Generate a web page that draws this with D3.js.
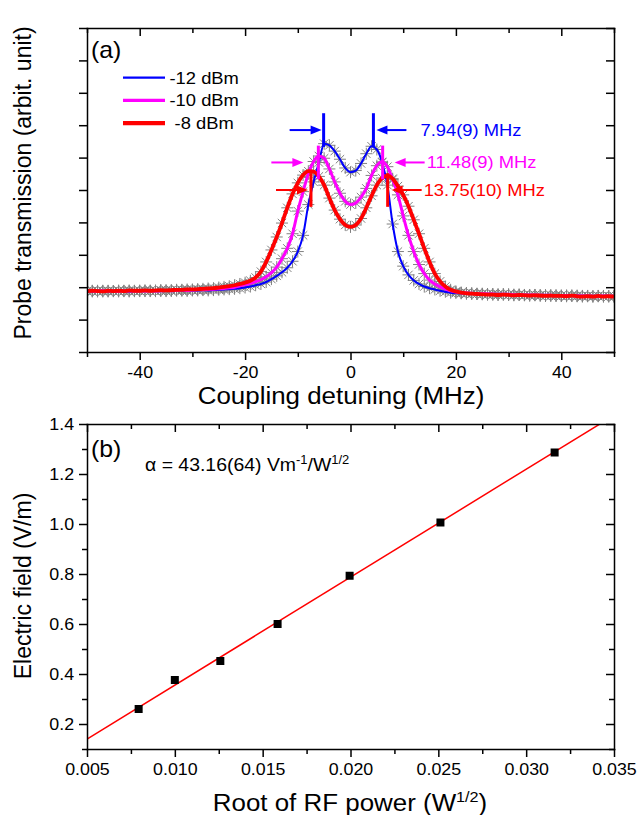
<!DOCTYPE html>
<html>
<head>
<meta charset="utf-8">
<script src="https://cdn.jsdelivr.net/npm/d3@7"></script>
<style>
body { margin: 0; background: #fff; }
svg { display: block; font-family: "Liberation Sans", Arial, sans-serif; }
.axis path, .axis line { stroke: #000; stroke-width: 1.5px; }
.axis path { stroke-linecap: square; }
</style>
</head>
<body>
<svg width="639" height="815"></svg>
<script>
// panel (a): probe transmission vs coupling detuning (MHz), arbitrary units
const detuning = [
	-50, -49, -48, -47, -46, -45, -44, -43, -42, -41,
	-40, -39, -38, -37, -36, -35, -34, -33, -32, -31,
	-30, -29, -28, -27, -26, -25, -24, -23, -22, -21,
	-20, -19, -18, -17, -16, -15, -14, -13, -12, -11,
	-10, -9, -8, -7, -6, -5, -4, -3, -2, -1,
	0, 1, 2, 3, 4, 5, 6, 7, 8, 9,
	10, 11, 12, 13, 14, 15, 16, 17, 18, 19,
	20, 21, 22, 23, 24, 25, 26, 27, 28, 29,
	30, 31, 32, 33, 34, 35, 36, 37, 38, 39,
	40, 41, 42, 43, 44, 45, 46, 47, 48, 49, 50
];
const trans12 = [
	1.88, 1.87, 1.89, 1.88, 1.87, 1.88, 1.89, 1.88, 1.87, 1.88,
	1.88, 1.89, 1.88, 1.88, 1.89, 1.88, 1.89, 1.90, 1.89, 1.89,
	1.90, 1.90, 1.91, 1.90, 1.91, 1.92, 1.93, 1.94, 1.95, 1.97,
	1.99, 2.02, 2.06, 2.10, 2.16, 2.25, 2.35, 2.46, 2.60, 2.80,
	3.10, 3.60, 4.55, 5.25, 5.85, 6.43, 6.38, 6.20, 5.95, 5.68,
	5.55, 5.60, 5.82, 6.12, 6.35, 6.25, 5.85, 5.15, 3.95, 3.10,
	2.65, 2.38, 2.21, 2.10, 2.02, 1.97, 1.93, 1.89, 1.86, 1.83,
	1.82, 1.81, 1.80, 1.80, 1.79, 1.79, 1.78, 1.78, 1.77, 1.78,
	1.77, 1.76, 1.77, 1.76, 1.75, 1.76, 1.75, 1.75, 1.74, 1.75,
	1.74, 1.74, 1.73, 1.74, 1.73, 1.73, 1.72, 1.73, 1.72, 1.72, 1.72
];
const trans10 = [
	1.88, 1.88, 1.87, 1.89, 1.88, 1.88, 1.87, 1.89, 1.88, 1.88,
	1.89, 1.88, 1.89, 1.88, 1.89, 1.90, 1.89, 1.90, 1.91, 1.90,
	1.91, 1.92, 1.92, 1.93, 1.94, 1.95, 1.96, 1.98, 2.00, 2.04,
	2.08, 2.12, 2.17, 2.23, 2.32, 2.45, 2.62, 2.88, 3.20, 3.65,
	4.35, 4.95, 5.50, 5.88, 6.05, 5.98, 5.65, 5.25, 4.90, 4.65,
	4.55, 4.60, 4.78, 5.05, 5.45, 5.75, 5.87, 5.72, 5.32, 4.85,
	4.20, 3.60, 3.10, 2.70, 2.42, 2.22, 2.10, 2.01, 1.94, 1.89,
	1.85, 1.83, 1.82, 1.81, 1.80, 1.80, 1.79, 1.79, 1.78, 1.78,
	1.78, 1.77, 1.77, 1.76, 1.76, 1.76, 1.75, 1.75, 1.75, 1.74,
	1.74, 1.74, 1.74, 1.73, 1.73, 1.73, 1.72, 1.72, 1.73, 1.72, 1.72
];
const trans8 = [
	1.88, 1.89, 1.88, 1.87, 1.89, 1.88, 1.89, 1.88, 1.90, 1.89,
	1.89, 1.90, 1.89, 1.90, 1.91, 1.90, 1.91, 1.92, 1.92, 1.93,
	1.93, 1.94, 1.95, 1.96, 1.97, 1.99, 2.01, 2.03, 2.06, 2.10,
	2.14, 2.20, 2.30, 2.48, 2.78, 3.15, 3.55, 3.98, 4.45, 4.88,
	5.22, 5.46, 5.58, 5.57, 5.42, 5.15, 4.75, 4.38, 4.10, 3.92,
	3.86, 3.92, 4.12, 4.45, 4.82, 5.15, 5.37, 5.44, 5.35, 5.12,
	4.85, 4.50, 4.08, 3.65, 3.20, 2.78, 2.42, 2.18, 2.02, 1.92,
	1.87, 1.83, 1.81, 1.80, 1.79, 1.78, 1.77, 1.77, 1.76, 1.77,
	1.76, 1.75, 1.76, 1.75, 1.74, 1.75, 1.74, 1.73, 1.74, 1.73,
	1.73, 1.72, 1.74, 1.72, 1.71, 1.72, 1.71, 1.73, 1.71, 1.72, 1.71
];
const powerLabels = ['-12 dBm', '-10 dBm', ' -8 dBm'];
const fwhmLabels = ['7.94(9) MHz', '11.48(9) MHz', '13.75(10) MHz'];
// peak positions marked on each trace (MHz) and arrow heights (arb.)
const peakLeft = [-5.1, -6.1, -7.5];
const peakRight = [4.35, 6.1, 7.05];
const arrowLevel = [6.85, 5.85, 5.0];

// panel (b): field vs root of RF power
const rootPower = [0.00794, 0.0100, 0.01259, 0.01585, 0.01995, 0.02512, 0.03162];
const field = [0.26, 0.376, 0.452, 0.600, 0.793, 1.006, 1.286];
const fitSlope = 43.16;
const fitIntercept = -0.076;

const xTicksA = [-50, -40, -30, -20, -10, 0, 10, 20, 30, 40, 50];
const xMajorA = [-40, -20, 0, 20, 40];
const yTicksA = [0, 1, 2, 3, 4, 5, 6, 7, 8, 9, 10];
const xTicksB = [0.005, 0.0075, 0.01, 0.0125, 0.015, 0.0175, 0.02, 0.0225, 0.025, 0.0275, 0.03, 0.0325, 0.035];
const xMajorB = [0.005, 0.01, 0.015, 0.02, 0.025, 0.03, 0.035];
const yTicksB = [0.1, 0.2, 0.3, 0.4, 0.5, 0.6, 0.7, 0.8, 0.9, 1.0, 1.1, 1.2, 1.3, 1.4];
const yMajorB = [0.2, 0.4, 0.6, 0.8, 1.0, 1.2, 1.4];

const colors = ['#0000ff', '#ff00ff', '#ff0000'];
const widths = [2, 3, 3.8];
const stretch = 'scale(1.08,1)';

const svg = d3.select('svg');
const left = 87, right = 614;

const xA = d3.scaleLinear().domain([-50, 50]).range([left, right]);
const yA = d3.scaleLinear().domain([0, 10]).range([352, 28]);
const xB = d3.scaleLinear().domain([0.005, 0.035]).range([left, right]);
const yB = d3.scaleLinear().domain([0.1, 1.4]).range([749, 424]);

function inList(list) {
	return d => list.some(m => Math.abs(m - d) < 1e-9);
}

function drawAxes(x, y, o) {
	const bot = y.range()[0], top = y.range()[1];
	const xm = inList(o.xMajor), ym = inList(o.yMajor);

	const b = svg.append('g').attr('class', 'axis')
		.attr('transform', 'translate(0,' + bot + ')')
		.call(d3.axisBottom(x).tickValues(o.xTicks).tickSize(8).tickSizeOuter(0).tickPadding(6)
			.tickFormat(d => xm(d) ? o.xFormat(d) : ''));
	b.selectAll('.tick line').filter(d => !xm(d)).attr('y2', 5);

	const t = svg.append('g').attr('class', 'axis')
		.attr('transform', 'translate(0,' + top + ')')
		.call(d3.axisTop(x).tickValues(o.xTicks).tickSize(-8).tickSizeOuter(0).tickFormat(''));
	t.selectAll('.tick line').filter(d => !xm(d)).attr('y2', 5);

	const l = svg.append('g').attr('class', 'axis')
		.attr('transform', 'translate(' + left + ',0)')
		.call(d3.axisLeft(y).tickValues(o.yTicks).tickSize(8).tickSizeOuter(0).tickPadding(4)
			.tickFormat(d => (ym(d) && o.yFormat) ? o.yFormat(d) : ''));
	l.selectAll('.tick line').filter(d => !ym(d)).attr('x2', -5);

	const r = svg.append('g').attr('class', 'axis')
		.attr('transform', 'translate(' + right + ',0)')
		.call(d3.axisRight(y).tickValues(o.yTicks).tickSize(-8).tickSizeOuter(0).tickFormat(''));
	r.selectAll('.tick line').filter(d => !ym(d)).attr('x2', -5);

	svg.selectAll('.axis').attr('font-family', null).attr('font-size', null);
	svg.selectAll('.axis text').attr('font-size', '16.5px').attr('fill', '#000')
		.attr('transform', stretch);
}

function label(x, y, size, anchor) {
	return svg.append('text')
		.attr('transform', 'translate(' + x + ',' + y + ') ' + stretch)
		.attr('font-size', size + 'px')
		.attr('text-anchor', anchor || 'start');
}

// ---------- panel (a) ----------
svg.append('clipPath').attr('id', 'clipA').append('rect')
	.attr('x', left).attr('y', 28).attr('width', right - left).attr('height', 324);

const series = [trans12, trans10, trans8];
const plotA = svg.append('g').attr('clip-path', 'url(#clipA)');

const star = 'M-6,0H6M0,-6V6M-4.2,-4.2L4.2,4.2M-4.2,4.2L4.2,-4.2';
series.forEach(vals => {
	plotA.append('g').selectAll('path')
		.data(detuning.map((d, i) => [d, vals[i]]))
		.join('path')
		.attr('transform', d => 'translate(' + xA(d[0]) + ',' + yA(d[1]) + ')')
		.attr('d', star)
		.attr('stroke', '#808080')
		.attr('stroke-width', 1)
		.attr('fill', 'none');
});

const line = d3.line()
	.x(d => xA(d[0]))
	.y(d => yA(d[1]))
	.curve(d3.curveMonotoneX);

series.forEach((vals, k) => {
	plotA.append('path')
		.datum(detuning.map((d, i) => [d, vals[i]]))
		.attr('d', line)
		.attr('fill', 'none')
		.attr('stroke', colors[k])
		.attr('stroke-width', widths[k])
		.attr('stroke-linejoin', 'round');
});

// linewidth markers and arrows
function arrow(x1, x2, y, color, w) {
	const dir = Math.sign(x2 - x1);
	svg.append('line')
		.attr('x1', x1).attr('x2', x2 - dir * 8)
		.attr('y1', y).attr('y2', y)
		.attr('stroke', color).attr('stroke-width', w);
	svg.append('path')
		.attr('d', 'M' + x2 + ',' + y + 'L' + (x2 - dir * 11) + ',' + (y - 4.5) + 'L' + (x2 - dir * 11) + ',' + (y + 4.5) + 'Z')
		.attr('fill', color);
}

const markHalf = 0.52;
const gapL = [2, 15, 3];
const gapR = [3, 12, 4];
const textGap = [12, 0, 0];
fwhmLabels.forEach((txt, k) => {
	const c = colors[k];
	const yc = arrowLevel[k];
	[peakLeft[k], peakRight[k]].forEach(p => {
		svg.append('line')
			.attr('x1', xA(p)).attr('x2', xA(p))
			.attr('y1', yA(yc + markHalf)).attr('y2', yA(yc - markHalf))
			.attr('stroke', c).attr('stroke-width', 3);
	});
	const yy = yA(yc);
	const lx = xA(peakLeft[k]);
	const rx = xA(peakRight[k]);
	arrow(lx - gapL[k] - 32, lx - gapL[k], yy, c, 2);
	arrow(rx + gapR[k] + 30, rx + gapR[k], yy, c, 2);
	label(rx + gapR[k] + 32 + textGap[k], yy, 17).attr('dy', '0.35em').attr('fill', c).text(txt);
});

drawAxes(xA, yA, {
	xTicks: xTicksA, xMajor: xMajorA, xFormat: d => String(d),
	yTicks: yTicksA, yMajor: yTicksA, yFormat: null
});

// legend
powerLabels.forEach((txt, k) => {
	const ly = 77.7 + k * 22.7;
	svg.append('line')
		.attr('x1', 123).attr('x2', 165).attr('y1', ly).attr('y2', ly)
		.attr('stroke', colors[k]).attr('stroke-width', widths[k] + 0.3);
	label(169.5, ly, 17).attr('dy', '0.35em').style('white-space', 'pre').text(txt);
});

label(91, 58, 23).text('(a)');
label(341, 404, 24, 'middle').text('Coupling detuning (MHz)');
svg.append('text')
	.attr('transform', 'translate(31,183) rotate(-90)')
	.attr('font-size', '23px').attr('text-anchor', 'middle')
	.text('Probe transmission (arbit. unit)');

// ---------- panel (b) ----------
svg.append('clipPath').attr('id', 'clipB').append('rect')
	.attr('x', left).attr('y', 424).attr('width', right - left).attr('height', 325);

const plotB = svg.append('g').attr('clip-path', 'url(#clipB)');
const fitX = xB.domain();
plotB.append('line')
	.attr('x1', xB(fitX[0])).attr('y1', yB(fitSlope * fitX[0] + fitIntercept))
	.attr('x2', xB(fitX[1])).attr('y2', yB(fitSlope * fitX[1] + fitIntercept))
	.attr('stroke', '#ff0000').attr('stroke-width', 1.5);

plotB.selectAll('rect.pt')
	.data(rootPower.map((d, i) => [d, field[i]]))
	.join('rect')
	.attr('class', 'pt')
	.attr('x', d => xB(d[0]) - 4).attr('y', d => yB(d[1]) - 4)
	.attr('width', 8).attr('height', 8)
	.attr('fill', '#000');

drawAxes(xB, yB, {
	xTicks: xTicksB, xMajor: xMajorB, xFormat: d3.format('.3f'),
	yTicks: yTicksB, yMajor: yMajorB, yFormat: d3.format('.1f')
});

label(91, 457, 23).text('(b)');

const alpha = label(145, 471, 18);
alpha.append('tspan').text('\u03b1 = 43.16(64) Vm');
alpha.append('tspan').attr('font-size', '12px').attr('dy', -7).text('-1');
alpha.append('tspan').attr('dy', 7).text('/W');
alpha.append('tspan').attr('font-size', '12px').attr('dy', -7).text('1/2');

const xtitle = label(350, 811, 24, 'middle');
xtitle.append('tspan').text('Root of RF power (W');
xtitle.append('tspan').attr('font-size', '15px').attr('dy', -9).text('1/2');
xtitle.append('tspan').attr('dy', 9).text(')');

svg.append('text')
	.attr('transform', 'translate(31,586) rotate(-90)')
	.attr('font-size', '23px').attr('text-anchor', 'middle')
	.text('Electric field (V/m)');
</script>
</body>
</html>
